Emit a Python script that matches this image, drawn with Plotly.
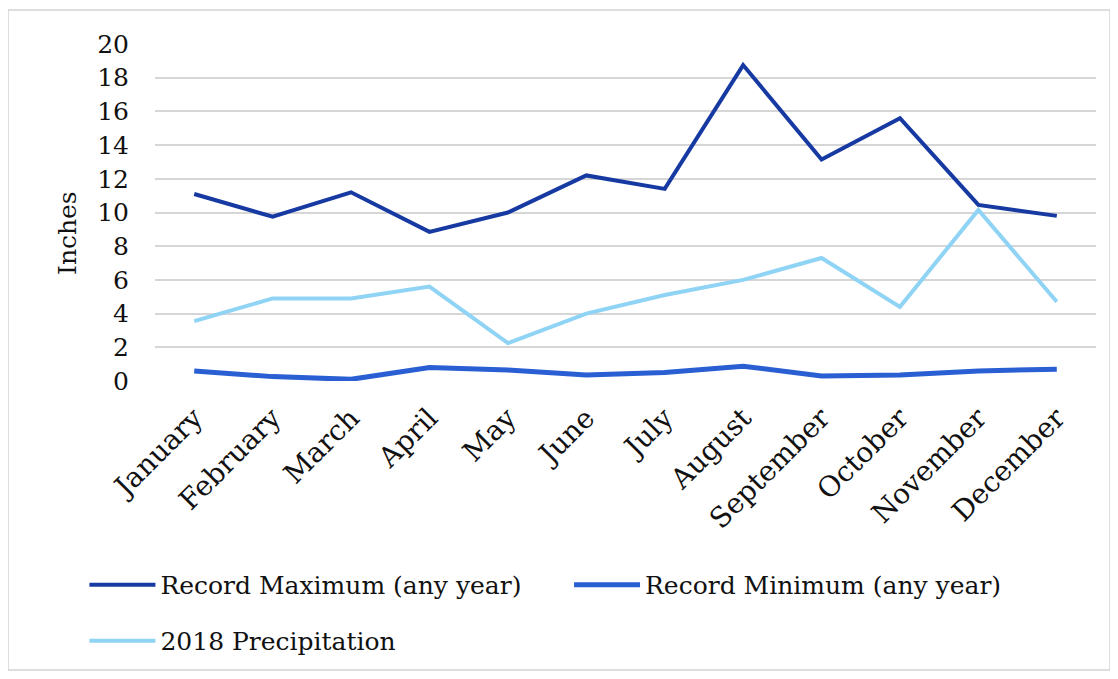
import plotly.graph_objects as go

months = ["January", "February", "March", "April", "May", "June", "July",
          "August", "September", "October", "November", "December"]
record_max = [11.1, 9.75, 11.2, 8.85, 10.0, 12.2, 11.4, 18.75, 13.15, 15.6, 10.45, 9.8]
record_min = [0.6, 0.26, 0.1, 0.8, 0.65, 0.35, 0.5, 0.88, 0.3, 0.35, 0.6, 0.7]
precip_2018 = [3.55, 4.9, 4.9, 5.6, 2.25, 4.0, 5.1, 6.0, 7.3, 4.4, 10.15, 4.7]

FONT = "DejaVu Serif"
FS = 25

# figure is placed by the page at an 8px body offset
W, H = 1110, 671
L, T = 147, 36
PW, PH = 941, 337

fig = go.Figure()
fig.add_trace(go.Scatter(x=months, y=record_max, mode="lines", name="Record Maximum (any year)",
                         line=dict(color="#163aa2", width=4), legend="legend"))
fig.add_trace(go.Scatter(x=months, y=record_min, mode="lines", name="Record Minimum (any year)",
                         line=dict(color="#2a5ed3", width=5), legend="legend2"))
fig.add_trace(go.Scatter(x=months, y=precip_2018, mode="lines", name="2018 Precipitation",
                         line=dict(color="#8fd3f5", width=4), legend="legend3"))

leg_common = dict(orientation="h", xanchor="left", yanchor="top", itemwidth=66,
                  font=dict(family=FONT, size=FS, color="#111111"), bgcolor="rgba(0,0,0,0)")

fig.update_layout(
    width=W, height=H,
    margin=dict(l=L, r=W - L - PW, t=T, b=H - T - PH),
    paper_bgcolor="white", plot_bgcolor="white",
    font=dict(family=FONT, size=FS, color="#111111"),
    showlegend=True,
    legend=dict(x=-0.075, y=-0.537, **leg_common),
    legend2=dict(x=0.44, y=-0.537, **leg_common),
    legend3=dict(x=-0.075, y=-0.703, **leg_common),
    shapes=[dict(type="rect", xref="paper", yref="paper",
                 x0=(0 - L) / PW, x1=(1102 - L) / PW,
                 y0=(T + PH - 662) / PH, y1=(T + PH - 2) / PH,
                 line=dict(color="#d4d4d4", width=1.5), fillcolor="rgba(0,0,0,0)", layer="below")],
    annotations=[dict(text="Inches", textangle=-90, xref="paper", yref="paper",
                      x=(68 - 155) / PW, y=(381 - 233) / PH, showarrow=False,
                      xanchor="center", yanchor="middle",
                      font=dict(family=FONT, size=FS, color="#111111"))],
)
fig.update_xaxes(tickangle=-45, showgrid=False, showline=False, ticks="",
                 range=[-0.5, len(months) - 0.5], ticklabelstandoff=14,
                 tickfont=dict(family=FONT, size=28, color="#111111"))
fig.update_yaxes(range=[0, 20], dtick=2, showgrid=True, gridcolor="#d6d6d6", gridwidth=1.5,
                 zeroline=False, showline=False, ticks="", ticklabelstandoff=25,
                 tickfont=dict(family=FONT, size=FS, color="#111111"))

fig.write_html("out.html")
